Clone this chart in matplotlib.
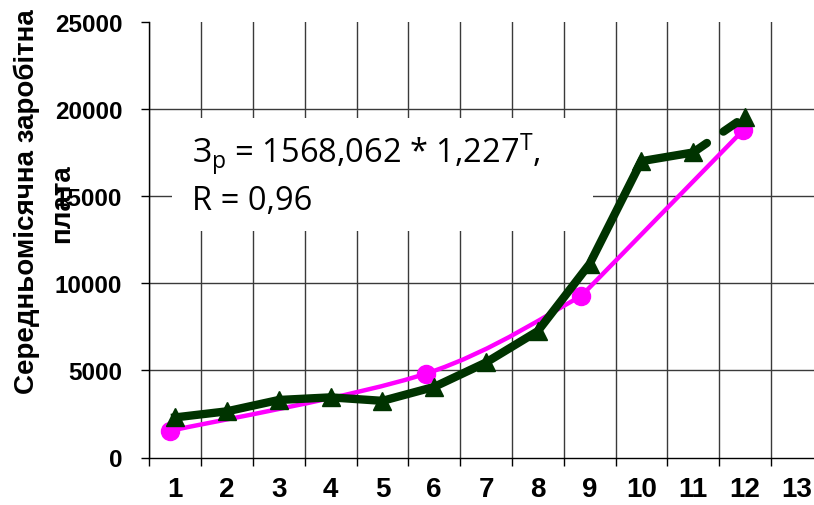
import numpy as np
import matplotlib
matplotlib.use("Agg")
import matplotlib.pyplot as plt
from matplotlib.path import Path
from matplotlib.patches import PathPatch, Rectangle

plt.rcParams['font.family'] = ['Liberation Sans', 'DejaVu Sans']
plt.rcParams['mathtext.fontset'] = 'custom'
plt.rcParams['mathtext.rm'] = 'Open Sans'
plt.rcParams['mathtext.it'] = 'Open Sans:italic'

# Average monthly wage by period (actual values)
periods = list(range(1, 13))
wage = [2300, 2650, 3300, 3450, 3250, 4050, 5450, 7250, 11100, 17000, 17500, 19550]

# Points of the exponential model Зр = 1568,062 * 1,227^T
model_x = [0.89, 5.84, 8.83, 11.97]
model_y = [1520, 4810, 9240, 18790]

x_labels = [str(i) for i in range(1, 14)]
y_ticks = [0, 5000, 10000, 15000, 20000, 25000]

GREEN = '#003300'
PINK = '#FF00FF'

W, H = 814, 506
fig = plt.figure(figsize=(W / 100, H / 100), dpi=100)
left, right, bottom, top = 149.3, 822.7, 458.5, 22.7
ax = fig.add_axes([left / W, 1 - bottom / H, (right - left) / W, (bottom - top) / H])

ax.set_xlim(0.5, 13.5)
ax.set_ylim(0, 25000)

for s in ('top', 'right'):
    ax.spines[s].set_visible(False)
for s in ('left', 'bottom'):
    ax.spines[s].set_linewidth(1.0)
    ax.spines[s].set_color('black')

# category boundaries carry the grid, centres carry the labels
ax.set_xticks(np.arange(0.5, 14.0, 1.0))
ax.set_xticklabels([])
ax.set_xticks(np.arange(1, 14), minor=True)
ax.set_xticklabels(x_labels, minor=True, fontsize=20, fontweight='bold')
ax.tick_params(axis='x', which='major', direction='out', length=5.5, width=1, color='black')
ax.tick_params(axis='x', which='minor', length=0, pad=13)

ax.set_yticks(y_ticks)
ax.set_yticklabels([str(v) for v in y_ticks], fontsize=17.5, fontweight='bold')
ax.tick_params(axis='y', direction='out', length=5.5, width=1, color='black', pad=14)

ax.grid(True, axis='x', which='major', color='#3a3a3a', linewidth=1.0)
for v in y_ticks[1:-1]:
    ax.axhline(v, color='#3a3a3a', linewidth=1.0, zorder=0.5)
ax.set_axisbelow(True)

# white box behind the equation
box_x0, box_x1, box_y0, box_y1 = 172, 593, 119, 232
ax.add_patch(Rectangle(((box_x0 - left) / (right - left), (bottom - box_y1) / (bottom - top)),
                       (box_x1 - box_x0) / (right - left), (box_y1 - box_y0) / (bottom - top),
                       transform=ax.transAxes, facecolor='white', edgecolor='none',
                       zorder=1.5, clip_on=False))

# model curve: smoothed through the first three points, straight to the last
pts = np.column_stack([model_x, model_y]).astype(float)
smooth = pts[:3]
verts = [tuple(smooth[0])]
codes = [Path.MOVETO]
n = len(smooth)
for i in range(n - 1):
    p0 = smooth[max(i - 1, 0)]
    p1 = smooth[i]
    p2 = smooth[i + 1]
    p3 = smooth[min(i + 2, n - 1)]
    c1 = p1 + (p2 - p0) / 6.0
    c2 = p2 - (p3 - p1) / 6.0
    verts += [tuple(c1), tuple(c2), tuple(p2)]
    codes += [Path.CURVE4] * 3
for p in pts[3:]:
    verts.append(tuple(p))
    codes.append(Path.LINETO)
ax.add_patch(PathPatch(Path(verts, codes), fill=False, edgecolor=PINK,
                       linewidth=3.2, zorder=3, capstyle='round', joinstyle='round'))
ax.plot(model_x, model_y, linestyle='none', marker='o', markersize=13,
        color=PINK, zorder=4)

# actual values: solid up to period 11, dashed to period 12
ax.plot(periods[:-1], wage[:-1], color=GREEN, linewidth=6, solid_joinstyle='miter',
        zorder=5)
ax.plot(periods[-2:], wage[-2:], color=GREEN, linewidth=6, linestyle=(0, (2.0, 2.4)),
        dash_capstyle='round', zorder=5)
ax.plot(periods, wage, linestyle='none', marker='^', markersize=13.5, color=GREEN,
        zorder=6)

fig.text(192 / W, 1 - 163 / H, r'З$_{\mathrm{р}}$ = 1568,062 * 1,227$^{\mathrm{Т}}$,',
         fontsize=23.5, family='Open Sans', ha='left', va='baseline')
fig.text(192 / W, 1 - 210 / H, 'R = 0,96', fontsize=23.5, family='Open Sans',
         ha='left', va='baseline')

# two-line axis title, second line sits over the tick labels
fig.text(27 / W, 1 - 201.5 / H, 'Середньомісячна заробітна', rotation=90,
         fontsize=20, fontweight='bold', ha='center', va='center')
fig.text(62 / W, 1 - 203.5 / H, 'плата', rotation=90,
         fontsize=20, fontweight='bold', ha='center', va='center')

fig.savefig('out.png', dpi=100)
